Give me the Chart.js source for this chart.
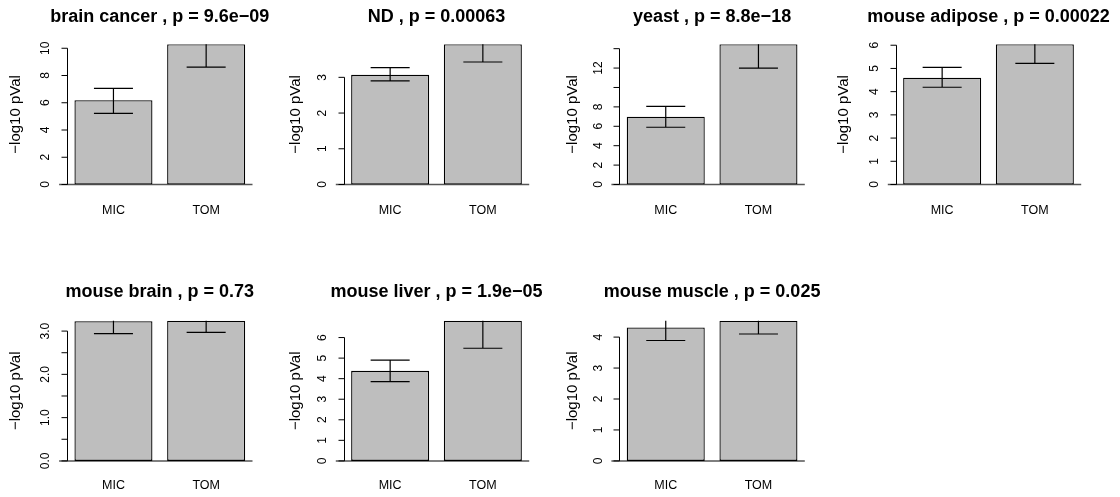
<!DOCTYPE html>
<html>
<head>
<meta charset="utf-8">
<script src="https://cdn.jsdelivr.net/npm/chart.js@4.4.1/dist/chart.umd.min.js"></script>
<style>
  html, body { margin: 0; padding: 0; background: #fff; }
  #wrap { position: relative; width: 1120px; height: 497px; overflow: hidden; }
  #wrap canvas { position: absolute; }
</style>
</head>
<body>
<div id="wrap"></div>
<script>
// one panel per dataset, R barplot style (mfrow 2x4)
const datasetNames = ['brain cancer', 'ND', 'yeast', 'mouse adipose', 'mouse brain', 'mouse liver', 'mouse muscle'];
const pValues = ['9.6e\u221209', '0.00063', '8.8e\u221218', '0.00022', '0.73', '1.9e\u221205', '0.025'];
const categories = ['MIC', 'TOM'];

const micValues = [6.18, 3.07, 6.98, 4.60, 3.23, 4.38, 4.31];
const tomValues = [10.29, 3.925, 14.45, 6.04, 3.24, 6.82, 4.53];
const micLow  = [5.22, 2.90, 5.90, 4.19, 2.94, 3.86, 3.89];
const micHigh = [7.06, 3.27, 8.05, 5.05, 3.53, 4.90, 4.73];
const tomLow  = [8.62, 3.43, 12.0, 5.22, 2.97, 5.48, 4.10];
const tomHigh = [11.96, 4.42, 16.9, 6.86, 3.51, 8.16, 4.96];

const yTicks = [
  [0, 2, 4, 6, 8, 10],
  [0, 1, 2, 3],
  [0, 2, 4, 6, 8, 10, 12, 14],
  [0, 1, 2, 3, 4, 5, 6],
  [0, 0.5, 1, 1.5, 2, 2.5, 3],
  [0, 1, 2, 3, 4, 5, 6],
  [0, 1, 2, 3, 4]
];
const yTickLabels = [
  ['0', '2', '4', '6', '8', '10'],
  ['0', '1', '2', '3'],
  ['0', '2', '4', '6', '8', '', '12', ''],
  ['0', '1', '2', '3', '4', '5', '6'],
  ['0.0', '', '1.0', '', '2.0', '', '3.0'],
  ['0', '1', '2', '3', '4', '5', '6'],
  ['0', '1', '2', '3', '4']
];
const yLabel = '\u2212log10 pVal';

// layout (page pixels)
const FONT = '"Liberation Sans", Arial, Helvetica, sans-serif';
const plotLefts = [67.1, 343.8, 619.4, 895.8];
const plotTops = [44.3, 320.7];
const plotW = 185.4, plotH = 140.2;
const canvasW = 290, canvasH = 220;
const xAxisH = 40;
const xTickPad = [19, 17];
const titleOffset = [22.6, 24];
const ylabPad = [7, 10, 12, 6];

const rAxes = {
  id: 'rAxes',
  beforeDatasetsDraw(chart) {
    const {ctx, chartArea: a} = chart;
    const y0 = chart.scales.y.getPixelForValue(0);
    ctx.save();
    ctx.strokeStyle = '#555';
    ctx.lineWidth = 1.5;
    ctx.beginPath();
    ctx.moveTo(a.left - 8, y0);
    ctx.lineTo(a.right, y0);
    ctx.stroke();
    ctx.restore();
  },
  afterDatasetsDraw(chart, args, opts) {
    const i = opts.idx;
    const {ctx, chartArea: a} = chart;
    const ys = chart.scales.y;
    const meta = chart.getDatasetMeta(0);
    // error bars, clipped to plot region
    ctx.save();
    ctx.beginPath();
    ctx.rect(a.left, a.top, a.right - a.left, a.bottom - a.top);
    ctx.clip();
    ctx.strokeStyle = '#000';
    ctx.lineWidth = 1.2;
    [[micLow[i], micHigh[i]], [tomLow[i], tomHigh[i]]].forEach(([lo, hi], j) => {
      const bar = meta.data[j];
      const hw = bar.width / 4;
      const yl = ys.getPixelForValue(lo), yh = ys.getPixelForValue(hi);
      ctx.beginPath();
      ctx.moveTo(bar.x, yl); ctx.lineTo(bar.x, yh);
      ctx.moveTo(bar.x - hw, yl); ctx.lineTo(bar.x + hw, yl);
      ctx.moveTo(bar.x - hw, yh); ctx.lineTo(bar.x + hw, yh);
      ctx.stroke();
    });
    ctx.restore();

    // y axis: line from first to last tick, ticks outward, labels parallel to axis
    const ticks = yTicks[i];
    const x = Math.round(a.left) + 0.5;
    ctx.save();
    ctx.strokeStyle = '#000';
    ctx.lineWidth = 1;
    ctx.beginPath();
    ctx.moveTo(x, ys.getPixelForValue(ticks[0]));
    ctx.lineTo(x, ys.getPixelForValue(ticks[ticks.length - 1]));
    ticks.forEach(v => {
      const py = ys.getPixelForValue(v);
      ctx.moveTo(x - 6, py); ctx.lineTo(x, py);
    });
    ctx.stroke();
    ctx.fillStyle = '#000';
    ctx.font = '12px ' + FONT;
    ctx.textAlign = 'center';
    ctx.textBaseline = 'middle';
    ticks.forEach((v, k) => {
      const lab = yTickLabels[i][k];
      if (!lab) return;
      ctx.save();
      ctx.translate(a.left - 21, ys.getPixelForValue(v));
      ctx.rotate(-Math.PI / 2);
      ctx.fillText(lab, 0, 0);
      ctx.restore();
    });
    // panel title
    ctx.font = 'bold 18px ' + FONT;
    ctx.textBaseline = 'alphabetic';
    ctx.fillText(datasetNames[i] + ' , p = ' + pValues[i], (a.left + a.right) / 2, a.top - titleOffset[Math.floor(i / 4)]);
    ctx.restore();
  }
};

const wrap = document.getElementById('wrap');
datasetNames.forEach((name, i) => {
  const col = i % 4, row = Math.floor(i / 4);
  const cl = Math.round(plotLefts[col]) - 67;
  const ct = row === 0 ? 0 : 276;
  const yW = plotLefts[col] - cl;
  const padTop = plotTops[row] - ct;
  const canvas = document.createElement('canvas');
  canvas.width = canvasW; canvas.height = canvasH;
  canvas.style.left = cl + 'px'; canvas.style.top = ct + 'px';
  canvas.style.width = canvasW + 'px'; canvas.style.height = canvasH + 'px';
  wrap.appendChild(canvas);

  new Chart(canvas.getContext('2d'), {
    type: 'bar',
    data: {
      labels: categories,
      datasets: [{
        data: [micValues[i], tomValues[i]],
        backgroundColor: '#bebebe',
        borderColor: '#000',
        borderWidth: 1.3,
        borderSkipped: false,
        barPercentage: 2 / 2.376,
        categoryPercentage: 1
      }]
    },
    options: {
      responsive: false,
      animation: false,
      devicePixelRatio: 1,
      layout: {
        padding: {
          left: 0,
          top: padTop,
          right: canvasW - yW - plotW,
          bottom: canvasH - padTop - plotH - xAxisH
        }
      },
      plugins: {
        legend: { display: false },
        tooltip: { enabled: false },
        rAxes: { idx: i }
      },
      scales: {
        x: {
          grid: { display: false, drawTicks: false },
          border: { display: false },
          ticks: { color: '#000', font: { size: 12.5, family: FONT }, padding: xTickPad[row] },
          afterFit: s => { s.height = xAxisH; }
        },
        y: {
          min: 0,
          max: Math.max(micValues[i], tomValues[i]),
          grid: { display: false, drawTicks: false },
          border: { display: false },
          ticks: { display: false },
          afterBuildTicks: s => { s.ticks = yTicks[i].map(v => ({ value: v })); },
          afterFit: s => { s.width = yW; },
          title: {
            display: true,
            text: yLabel,
            color: '#000',
            font: { size: 15, family: FONT },
            padding: { top: ylabPad[col], bottom: 0 }
          }
        }
      }
    },
    plugins: [rAxes]
  });
});
</script>
</body>
</html>
